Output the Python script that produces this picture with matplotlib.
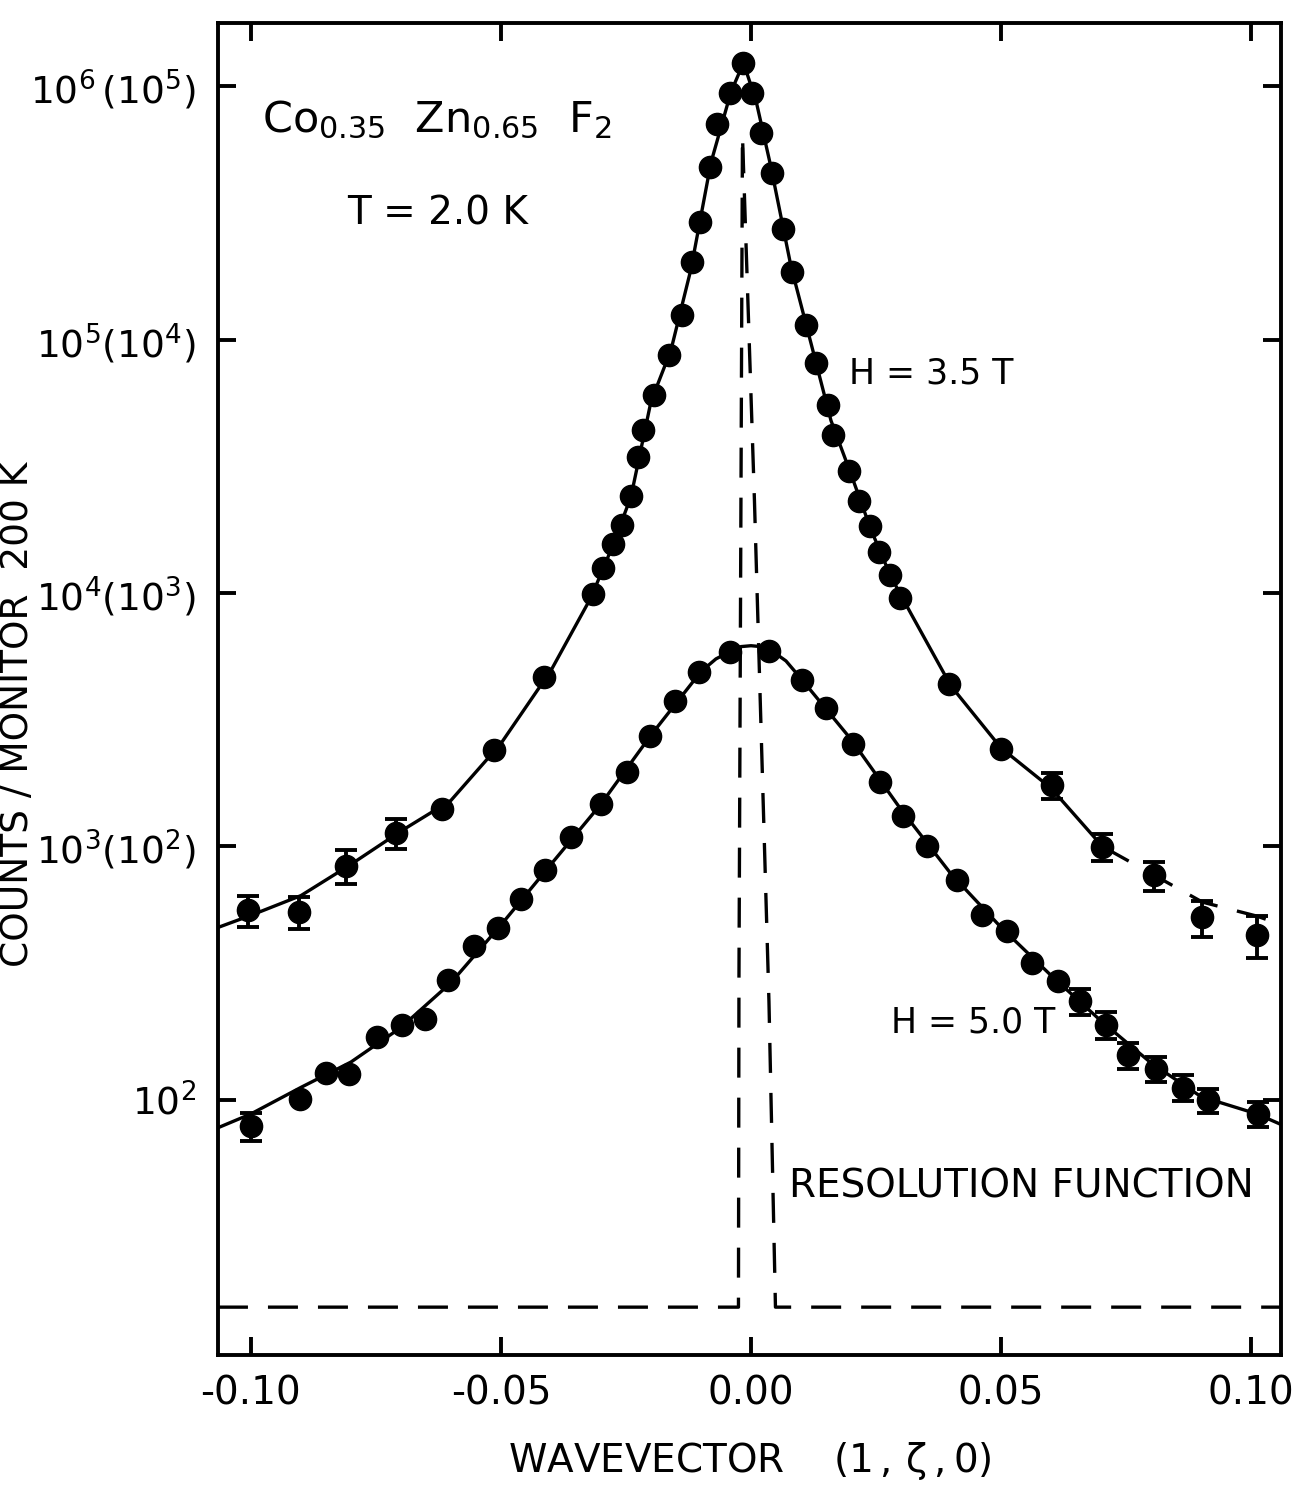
import numpy as np
import matplotlib
matplotlib.use("Agg")
import matplotlib.pyplot as plt
from matplotlib.ticker import NullLocator

plt.rcParams['font.family'] = ['DejaVu Sans']
plt.rcParams['mathtext.default'] = 'regular'

# ---------------- data ----------------
# H = 3.5 T scan
q35 = [-0.1006, -0.0904, -0.0810, -0.0710, -0.0617, -0.0514, -0.0414, -0.0316,
       -0.0296, -0.0275, -0.0258, -0.0239, -0.0225, -0.0216, -0.0194, -0.0164,
       -0.0138, -0.0117, -0.0101, -0.0082, -0.0068, -0.0041, -0.0015, 0.0003,
       0.0021, 0.0043, 0.0065, 0.0083, 0.0110, 0.0130, 0.0154, 0.0165,
       0.0197, 0.0217, 0.0238, 0.0257, 0.0278, 0.0299, 0.0396, 0.0501,
       0.0602, 0.0703, 0.0807, 0.0903, 0.1012]
I35 = [559, 551, 841, 1130, 1402, 2405, 4650, 9930,
       12560, 15570, 18620, 24170, 34430, 43950, 60260, 87100,
       124800, 203200, 292100, 480800, 709600, 944000, 1238000, 939000,
       657000, 455000, 273000, 185700, 114300, 81300, 55300, 42050,
       30430, 23110, 18340, 14580, 11800, 9530, 4385, 2434,
       1746, 997, 769, 526, 448]
err35 = [80, 80, 130, 150, 0, 0, 0, 0,
         0, 0, 0, 0, 0, 0, 0, 0,
         0, 0, 0, 0, 0, 0, 0, 0,
         0, 0, 0, 0, 0, 0, 0, 0,
         0, 0, 0, 0, 0, 0, 0, 0,
         200, 120, 100, 85, 85]

# H = 5.0 T scan
q50 = [-0.0999, -0.0901, -0.0850, -0.0804, -0.0748, -0.0697, -0.0651, -0.0605,
       -0.0553, -0.0506, -0.0459, -0.0411, -0.0360, -0.0300, -0.0248, -0.0201,
       -0.0151, -0.0103, -0.0042, 0.0036, 0.0102, 0.0151, 0.0205, 0.0259,
       0.0304, 0.0352, 0.0413, 0.0463, 0.0512, 0.0563, 0.0614, 0.0659,
       0.0710, 0.0754, 0.0810, 0.0865, 0.0914, 0.1014]
I50 = [78.9, 100.5, 127.6, 126.8, 177.8, 196.8, 208.3, 297.8,
       406.4, 476, 621, 811, 1087, 1468, 1967, 2737,
       3767, 4875, 5850, 5893, 4522, 3515, 2537, 1798,
       1324, 1000, 735, 535, 464, 347.6, 295.5, 244.9,
       197.2, 150.4, 132.7, 111.8, 99.5, 88]
err50 = [10, 0, 0, 0, 0, 0, 0, 0,
         0, 0, 0, 0, 0, 0, 0, 0,
         0, 0, 0, 0, 0, 0, 0, 0,
         0, 0, 0, 0, 0, 0, 0, 28,
         24, 18, 15, 13, 11, 10]

# fitted curve, H = 3.5 T (solid part, then dashed extension)
fit35_q = [-0.1066, -0.100, -0.090, -0.080, -0.070, -0.060, -0.050, -0.040,
           -0.032, -0.028, -0.024, -0.020, -0.016, -0.012, -0.008, -0.004,
           -0.0015, 0.001, 0.004, 0.008, 0.012, 0.016, 0.020, 0.024,
           0.028, 0.032, 0.040, 0.050, 0.060, 0.0703]
fit35_I = [479, 535, 640, 850, 1150, 1520, 2550, 4950,
           9600, 14800, 24000, 57000, 91000, 190000, 500000, 950000,
           1238000, 880000, 480000, 195000, 97000, 48000, 29500, 17800,
           11600, 8300, 4300, 2450, 1700, 1000]
fit35d_q = [0.0703, 0.0807, 0.0903, 0.1012, 0.1066]
fit35d_I = [1000, 769, 603, 531, 487]

# fitted curve, H = 5.0 T
fit50_q = [-0.1066, -0.100, -0.090, -0.080, -0.070, -0.060, -0.050, -0.040,
           -0.030, -0.020, -0.010, -0.007, -0.004, -0.002, 0.000, 0.002,
           0.004, 0.007, 0.010, 0.020, 0.030, 0.040, 0.050, 0.060,
           0.070, 0.080, 0.090, 0.1012, 0.1066]
fit50_I = [77.6, 88, 112, 141, 193, 290, 490, 850,
           1470, 2750, 4900, 5500, 5900, 6150, 6200, 6150,
           5950, 5400, 4600, 2650, 1400, 780, 480, 310,
           205, 140, 103, 88, 79]

# resolution function
res_q = [-0.1066, -0.0025, -0.0024, -0.0017, 0.0007, 0.0036, 0.0049, 0.1066]
res_I = [15.2, 15.2, 300, 640000, 23100, 244, 15.2, 15.2]

xticks = [-0.10, -0.05, 0.00, 0.05, 0.10]
xticklabels = ['-0.10', '-0.05', '0.00', '0.05', '0.10']
yticks = [1e2, 1e3, 1e4, 1e5, 1e6]
yticklabels = [r'$10^{2}$', r'$10^{3}(10^{2})$', r'$10^{4}(10^{3})$',
               r'$10^{5}(10^{4})$', r'$10^{6}\,(10^{5})$']

# ---------------- figure ----------------
fig = plt.figure(figsize=(13.13, 14.89), dpi=100)
ax = fig.add_axes([0.166, 0.090, 0.8096, 0.8946])
ax.set_yscale('log')
ax.set_xlim(-0.1066, 0.1060)
ax.set_ylim(9.84, 1.78e6)

dash = (0, (9, 6))
ax.plot(res_q, res_I, color='black', lw=2.4, linestyle=dash, zorder=1)
ax.plot(fit35_q, fit35_I, color='black', lw=2.4, zorder=2)
ax.plot(fit35d_q, fit35d_I, color='black', lw=2.4, linestyle=dash, zorder=2)
ax.plot(fit50_q, fit50_I, color='black', lw=2.4, zorder=2)

for q, I, e in ((q35, I35, err35), (q50, I50, err50)):
    q = np.asarray(q); I = np.asarray(I, float); e = np.asarray(e, float)
    m = e > 0
    ax.errorbar(q[m], I[m], yerr=e[m], fmt='none', ecolor='black',
                elinewidth=2.8, capsize=8, capthick=2.8, zorder=3)
    ax.plot(q, I, 'o', color='black', markersize=16, zorder=4)

# ticks
ax.set_xticks(xticks)
ax.set_xticklabels(xticklabels)
ax.set_yticks(yticks)
ax.set_yticklabels(yticklabels)
ax.yaxis.set_minor_locator(NullLocator())
ax.xaxis.set_minor_locator(NullLocator())
ax.tick_params(direction='in', length=13, width=2.8, top=True, right=True)
ax.tick_params(axis='x', labelsize=28, pad=14)
ax.tick_params(axis='y', labelsize=27, pad=16)
for s in ax.spines.values():
    s.set_linewidth(2.8)

ax.set_xlabel(r'WAVEVECTOR    $(1\,,\,\zeta\,,0)$', fontsize=28, labelpad=20)
fig.text(0.014, 0.52, 'COUNTS / MONITOR  200 K', rotation=90, fontsize=27,
         ha='center', va='center')

# annotations
ax.text(-0.0977, 10**5.820, r'$Co_{0.35}\ \ Zn_{0.65}\ \ F_{2}$', fontsize=31,
        ha='left', va='baseline')
ax.text(-0.0808, 2.85e5, 'T = 2.0 K', fontsize=28, ha='left', va='baseline')
ax.text(0.0197, 67100, 'H = 3.5 T', fontsize=25, ha='left', va='baseline')
ax.text(0.0281, 184.5, 'H = 5.0 T', fontsize=25, ha='left', va='baseline')
ax.text(0.0077, 41.2, 'RESOLUTION FUNCTION', fontsize=28, ha='left', va='baseline')

fig.savefig('out.png', dpi=100)
